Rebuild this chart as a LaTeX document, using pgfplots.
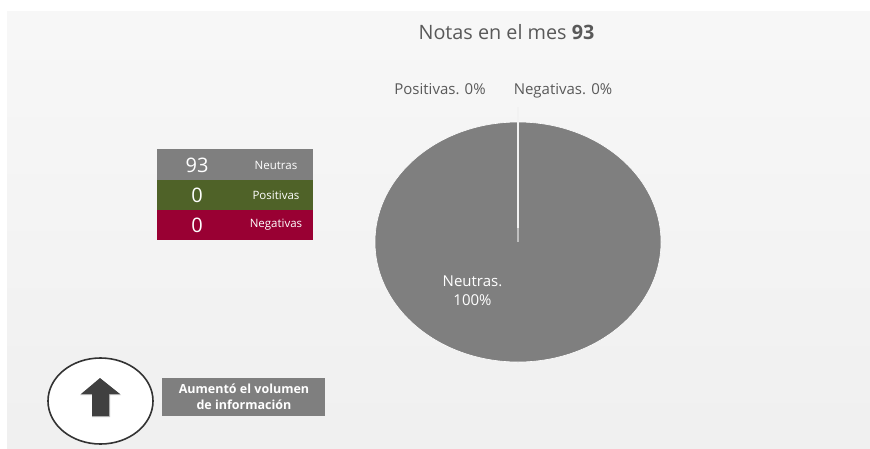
\documentclass[border=0pt]{standalone}
\usepackage{pgfplots}
\pgfplotsset{compat=1.18}
\usepackage{fontspec}
\setmainfont{Open Sans}
\definecolor{pgray}{HTML}{7F7F7F}
\definecolor{pgreen}{HTML}{4F6228}
\definecolor{pred}{HTML}{990033}
\definecolor{txt}{HTML}{595959}
\begin{document}
\begin{tikzpicture}
\begin{axis}[
  scale only axis, width=870pt, height=448pt,
  xmin=0, xmax=870, ymin=0, ymax=448, y dir=reverse,
  axis lines=none, clip=false]
\fill[white] (axis cs:0,0) rectangle (axis cs:870,448);
% background panel
\path[shade, top color=white!97!black, bottom color=white!94!black, draw=none]
  (axis cs:7,11) rectangle (axis cs:870,448);
% pie: Neutras 100%
\addplot[draw=white, line width=0.6pt, fill=pgray, forget plot] coordinates {(518,122)} ;
\fill[pgray, draw=white, line width=0.6pt] (axis cs:518,242) ellipse [x radius=143pt, y radius=120pt];
\draw[white!95!black, line width=1.8pt] (axis cs:518,107) -- (axis cs:518,228);
\draw[white!75!black, line width=1.8pt] (axis cs:518,228) -- (axis cs:518,242);
% pie labels
\node[text=txt, font=\fontsize{19.8}{23}\selectfont] at (axis cs:506.5,32) {Notas en el mes \textbf{93}};
\node[text=txt, font=\fontsize{15}{18}\selectfont] at (axis cs:440,89) {Positivas. 0\%};
\node[text=txt, font=\fontsize{15}{18}\selectfont] at (axis cs:563,91) {Negativas. 0\%};
\node[text=white, align=center, font=\fontsize{15}{19}\selectfont] at (axis cs:472.5,291) {Neutras.\\100\%};
% table
\fill[pgray] (axis cs:157,149) rectangle (axis cs:313,180);
\fill[pgreen] (axis cs:157,180) rectangle (axis cs:313,210);
\fill[pred] (axis cs:157,210) rectangle (axis cs:313,240);
\node[text=white, font=\fontsize{20}{24}\selectfont] at (axis cs:197,165) {93};
\node[text=white, font=\fontsize{20}{24}\selectfont] at (axis cs:197,195) {0};
\node[text=white, font=\fontsize{20}{24}\selectfont] at (axis cs:197,225) {0};
\node[text=white, font=\fontsize{11.5}{14}\selectfont] at (axis cs:276,165) {Neutras};
\node[text=white, font=\fontsize{11.5}{14}\selectfont] at (axis cs:276,195) {Positivas};
\node[text=white, font=\fontsize{11.5}{14}\selectfont] at (axis cs:276,225) {Negativas};
% arrow circle
\fill[white, draw=black!80, line width=1.6pt] (axis cs:100.5,401) ellipse [x radius=52.5pt, y radius=43pt];
\fill[black!25] (axis cs:100,379) -- (axis cs:121,395) -- (axis cs:110,395) -- (axis cs:110,417) -- (axis cs:92,417) -- (axis cs:92,395) -- (axis cs:80,395) -- cycle;
\fill[black!75] (axis cs:100,378) -- (axis cs:120,394) -- (axis cs:109,394) -- (axis cs:109,416) -- (axis cs:92,416) -- (axis cs:92,394) -- (axis cs:81,394) -- cycle;
% note
\fill[pgray] (axis cs:162,378) rectangle (axis cs:325,416);
\node[text=white, align=center, font=\fontsize{12.5}{16}\selectfont\bfseries] at (axis cs:244,397) {Aumentó el volumen\\de información};
\end{axis}
\end{tikzpicture}
\end{document}
